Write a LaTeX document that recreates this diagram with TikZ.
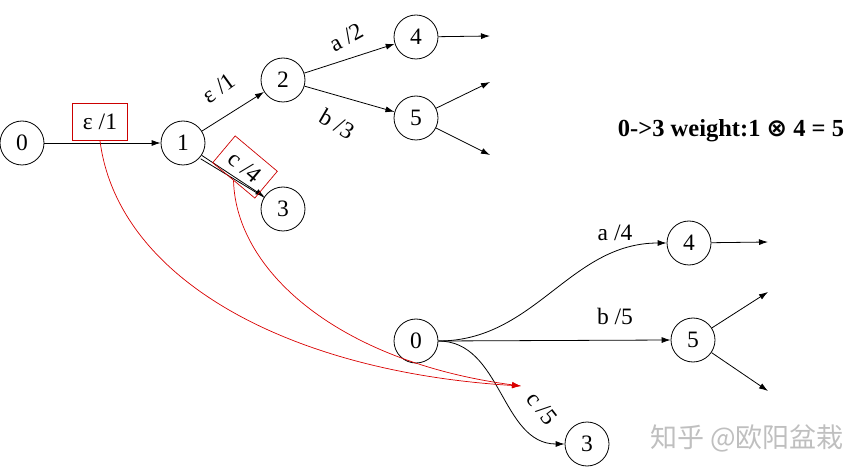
\documentclass[tikz,border=0pt]{standalone}
\usepackage{fontspec}
\setmainfont{Liberation Serif}
\newfontfamily\symfont{DejaVu Sans}
\newfontfamily\cjkfont{Noto Sans CJK SC}
\usetikzlibrary{arrows.meta}
\begin{document}
\begin{tikzpicture}[x=1pt,y=-1pt,
  font=\fontsize{23.5}{27}\selectfont,
  st/.style={draw,circle,minimum size=44pt,inner sep=0pt,line width=0.8pt},
  arr/.style={-{Latex[length=9pt,width=6pt]},line width=0.8pt},
  wbox/.style={draw=red!80!black,line width=0.7pt,minimum width=55pt,
    minimum height=37pt,inner sep=2pt},
  lbl/.style={inner sep=1pt},
  hit/.style={red!85!black,line width=0.7pt,-{Latex[length=9pt,width=6pt]}}]
\useasboundingbox (0,0) rectangle (863,473);
% upper automaton
\node[st] (u0) at (22,143) {0};
\node[st] (u1) at (183,143) {1};
\node[st] (u2) at (283,80) {2};
\node[st] (u3) at (283,209) {3};
\node[st] (u4) at (416,37) {4};
\node[st] (u5) at (416,118) {5};
\coordinate (u4o) at (490,36);
\coordinate (u5a) at (490,82);
\coordinate (u5b) at (490,155);
\draw[arr] (u0) -- (u1);
\draw[arr] (u1) -- (u2);
\draw[arr] (u1) -- (u3);
\draw[line width=0.8pt] ([yshift=-2pt]u1.-38) -- ([yshift=-1pt]u3.146);
\draw[arr] (u2) -- (u4);
\draw[arr] (u2) -- (u5);
\draw[arr] (u4) -- (u4o);
\draw[arr] (u5) -- (u5a);
\draw[arr] (u5) -- (u5b);
\node[wbox] (e1box) at (100,122) {ε /1};
\node[lbl,rotate=36] (e1) at (219,88) {ε /1};
\node[wbox,rotate=-40,minimum height=35pt] (c4box) at (245,167) {c /4};
\node[lbl,rotate=29] (a2) at (346,37) {a /2};
\node[lbl,rotate=-30] (b3) at (337,124) {b /3};
\node[font=\bfseries\fontsize{24.5}{28}\selectfont] (wt) at (731,131)
  {0->3 weight:1 {\symfont ⊗} 4 = 5};
% lower automaton
\node[st] (l0) at (416,341) {0};
\node[st] (l4) at (689,243) {4};
\node[st] (l5) at (693,340) {5};
\node[st] (l3) at (587,444) {3};
\coordinate (l4o) at (768,242);
\coordinate (l5a) at (768,292);
\coordinate (l5b) at (768,391);
\draw[arr] (l0.east) to[out=0,in=180] (l4.west);
\draw[arr] (l0.east) -- (l5.west);
\draw[arr] (l0.east) to[out=0,in=180] (l3.west);
\draw[arr] (l4) -- (l4o);
\draw[arr] (l5) -- (l5a);
\draw[arr] (l5) -- (l5b);
\node[lbl] (a4) at (615,233) {a /4};
\node[lbl] (b5) at (615,316) {b /5};
\node[lbl,rotate=-52] (c5) at (542,408) {c /5};
% weights carried over
\coordinate (tgt) at (521,386);
\draw[hit] (e1box.south) .. controls (118,280) and (290,372) .. (tgt);
\draw[hit] (c4box.south) .. controls (236,272) and (340,362) .. (tgt);
\node[text=black!25,font=\cjkfont\fontsize{27}{31}\selectfont] (wm) at (747,438)
  {知乎 @欧阳盆栽};
\end{tikzpicture}
\end{document}
